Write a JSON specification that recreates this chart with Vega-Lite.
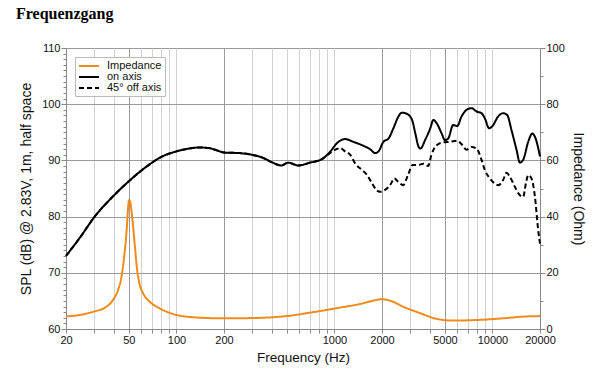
{
  "$schema": "https://vega.github.io/schema/vega-lite/v6.json",
  "width": 474,
  "height": 281,
  "autosize": {"type": "none"},
  "padding": {"left": 66, "top": 48, "right": 59, "bottom": 50},
  "background": "white",
  "title": {"text": "Frequenzgang", "anchor": "start", "frame": "group", "font": "Liberation Serif", "fontSize": 16, "fontWeight": "bold", "color": "black", "dx": -50, "offset": 20},
  "config": {
    "view": {"stroke": "#999", "strokeWidth": 1},
    "axis": {"labelFont": "Liberation Sans", "titleFont": "Liberation Sans", "labelColor": "#111", "titleColor": "#111", "titleFontWeight": "normal", "domainColor": "#888", "tickColor": "#888"},
    "legend": {"labelFont": "Liberation Sans"}
  },
  "datasets": {
    "spl": [
      {"f": 20, "s": "on axis", "v": 73.0}, {"f": 25, "s": "on axis", "v": 76.6}, {"f": 30, "s": "on axis", "v": 79.8}, {"f": 40, "s": "on axis", "v": 83.7}, {"f": 50, "s": "on axis", "v": 86.3}, {"f": 60, "s": "on axis", "v": 88.2}, {"f": 70, "s": "on axis", "v": 89.6}, {"f": 80, "s": "on axis", "v": 90.6}, {"f": 100, "s": "on axis", "v": 91.6}, {"f": 120, "s": "on axis", "v": 92.1}, {"f": 140, "s": "on axis", "v": 92.3}, {"f": 160, "s": "on axis", "v": 92.2}, {"f": 180, "s": "on axis", "v": 91.8}, {"f": 200, "s": "on axis", "v": 91.4}, {"f": 250, "s": "on axis", "v": 91.3}, {"f": 300, "s": "on axis", "v": 91.0}, {"f": 350, "s": "on axis", "v": 90.5}, {"f": 400, "s": "on axis", "v": 89.7}, {"f": 460, "s": "on axis", "v": 89.1}, {"f": 510, "s": "on axis", "v": 89.6}, {"f": 590, "s": "on axis", "v": 89.1}, {"f": 700, "s": "on axis", "v": 89.6}, {"f": 830, "s": "on axis", "v": 90.2}, {"f": 937, "s": "on axis", "v": 91.5},
      {"f": 1033, "s": "on axis", "v": 93.0}, {"f": 1100, "s": "on axis", "v": 93.6}, {"f": 1167, "s": "on axis", "v": 93.8}, {"f": 1318, "s": "on axis", "v": 93.3}, {"f": 1525, "s": "on axis", "v": 92.6}, {"f": 1680, "s": "on axis", "v": 92.0}, {"f": 1810, "s": "on axis", "v": 91.3}, {"f": 1900, "s": "on axis", "v": 91.6}, {"f": 2040, "s": "on axis", "v": 93.3}, {"f": 2200, "s": "on axis", "v": 93.9}, {"f": 2360, "s": "on axis", "v": 95.7}, {"f": 2540, "s": "on axis", "v": 97.8}, {"f": 2670, "s": "on axis", "v": 98.5}, {"f": 2870, "s": "on axis", "v": 98.3}, {"f": 3100, "s": "on axis", "v": 97.2}, {"f": 3250, "s": "on axis", "v": 94.8}, {"f": 3400, "s": "on axis", "v": 92.5}, {"f": 3500, "s": "on axis", "v": 92.1}, {"f": 3760, "s": "on axis", "v": 93.7}, {"f": 4040, "s": "on axis", "v": 95.7}, {"f": 4230, "s": "on axis", "v": 97.2}, {"f": 4440, "s": "on axis", "v": 96.6}, {"f": 4770, "s": "on axis", "v": 94.8}, {"f": 5000, "s": "on axis", "v": 93.6}, {"f": 5250, "s": "on axis", "v": 93.9}, {"f": 5640, "s": "on axis", "v": 96.3}, {"f": 5980, "s": "on axis", "v": 96.1}, {"f": 6370, "s": "on axis", "v": 97.8}, {"f": 6860, "s": "on axis", "v": 99.0}, {"f": 7380, "s": "on axis", "v": 99.3}, {"f": 7940, "s": "on axis", "v": 98.7}, {"f": 8530, "s": "on axis", "v": 98.4}, {"f": 8950, "s": "on axis", "v": 97.5}, {"f": 9530, "s": "on axis", "v": 95.7}, {"f": 10000, "s": "on axis", "v": 96.1}, {"f": 10860, "s": "on axis", "v": 97.8}, {"f": 11680, "s": "on axis", "v": 98.4}, {"f": 12380, "s": "on axis", "v": 98.1}, {"f": 13200, "s": "on axis", "v": 95.4}, {"f": 14200, "s": "on axis", "v": 91.9}, {"f": 14920, "s": "on axis", "v": 89.6}, {"f": 15650, "s": "on axis", "v": 90.1}, {"f": 16840, "s": "on axis", "v": 93.3}, {"f": 17870, "s": "on axis", "v": 94.8}, {"f": 18580, "s": "on axis", "v": 94.2}, {"f": 20000, "s": "on axis", "v": 90.7},
      {"f": 20, "s": "45° off axis", "v": 73.0}, {"f": 25, "s": "45° off axis", "v": 76.6}, {"f": 30, "s": "45° off axis", "v": 79.8}, {"f": 40, "s": "45° off axis", "v": 83.7}, {"f": 50, "s": "45° off axis", "v": 86.3}, {"f": 60, "s": "45° off axis", "v": 88.2}, {"f": 70, "s": "45° off axis", "v": 89.6}, {"f": 80, "s": "45° off axis", "v": 90.6}, {"f": 100, "s": "45° off axis", "v": 91.6}, {"f": 120, "s": "45° off axis", "v": 92.1}, {"f": 140, "s": "45° off axis", "v": 92.3}, {"f": 160, "s": "45° off axis", "v": 92.2}, {"f": 180, "s": "45° off axis", "v": 91.8}, {"f": 200, "s": "45° off axis", "v": 91.4}, {"f": 250, "s": "45° off axis", "v": 91.3}, {"f": 300, "s": "45° off axis", "v": 91.0}, {"f": 350, "s": "45° off axis", "v": 90.5}, {"f": 400, "s": "45° off axis", "v": 89.7}, {"f": 460, "s": "45° off axis", "v": 89.1}, {"f": 510, "s": "45° off axis", "v": 89.6}, {"f": 590, "s": "45° off axis", "v": 89.1}, {"f": 700, "s": "45° off axis", "v": 89.6}, {"f": 830, "s": "45° off axis", "v": 90.2}, {"f": 937, "s": "45° off axis", "v": 91.3},
      {"f": 1030, "s": "45° off axis", "v": 92.0}, {"f": 1090, "s": "45° off axis", "v": 92.2}, {"f": 1167, "s": "45° off axis", "v": 91.6}, {"f": 1260, "s": "45° off axis", "v": 91.0}, {"f": 1350, "s": "45° off axis", "v": 89.5}, {"f": 1490, "s": "45° off axis", "v": 88.3}, {"f": 1610, "s": "45° off axis", "v": 87.4}, {"f": 1730, "s": "45° off axis", "v": 85.9}, {"f": 1850, "s": "45° off axis", "v": 84.7}, {"f": 1940, "s": "45° off axis", "v": 84.4}, {"f": 2080, "s": "45° off axis", "v": 84.7}, {"f": 2250, "s": "45° off axis", "v": 85.6}, {"f": 2400, "s": "45° off axis", "v": 86.8}, {"f": 2530, "s": "45° off axis", "v": 86.2}, {"f": 2720, "s": "45° off axis", "v": 85.6}, {"f": 2920, "s": "45° off axis", "v": 87.4}, {"f": 3130, "s": "45° off axis", "v": 89.2}, {"f": 3400, "s": "45° off axis", "v": 89.2}, {"f": 3660, "s": "45° off axis", "v": 89.4}, {"f": 3920, "s": "45° off axis", "v": 89.0}, {"f": 4110, "s": "45° off axis", "v": 91.0}, {"f": 4440, "s": "45° off axis", "v": 92.7}, {"f": 4880, "s": "45° off axis", "v": 93.2}, {"f": 5380, "s": "45° off axis", "v": 93.3}, {"f": 5980, "s": "45° off axis", "v": 93.5}, {"f": 6370, "s": "45° off axis", "v": 92.9}, {"f": 6860, "s": "45° off axis", "v": 91.9}, {"f": 7380, "s": "45° off axis", "v": 92.4}, {"f": 7940, "s": "45° off axis", "v": 92.1}, {"f": 8530, "s": "45° off axis", "v": 90.1}, {"f": 8950, "s": "45° off axis", "v": 88.3}, {"f": 9630, "s": "45° off axis", "v": 86.8}, {"f": 10350, "s": "45° off axis", "v": 85.9}, {"f": 10900, "s": "45° off axis", "v": 85.6}, {"f": 11680, "s": "45° off axis", "v": 86.5}, {"f": 12270, "s": "45° off axis", "v": 87.8}, {"f": 12880, "s": "45° off axis", "v": 87.1}, {"f": 13870, "s": "45° off axis", "v": 85.3}, {"f": 14920, "s": "45° off axis", "v": 83.8}, {"f": 15650, "s": "45° off axis", "v": 83.5}, {"f": 16280, "s": "45° off axis", "v": 85.9}, {"f": 16840, "s": "45° off axis", "v": 87.4}, {"f": 17670, "s": "45° off axis", "v": 86.8}, {"f": 18580, "s": "45° off axis", "v": 83.5}, {"f": 19480, "s": "45° off axis", "v": 77.6}, {"f": 20000, "s": "45° off axis", "v": 75.2}
    ],
    "imp": [
      {"f": 20, "s": "Impedance", "z": 4.5}, {"f": 24.5, "s": "Impedance", "z": 5.0}, {"f": 30, "s": "Impedance", "z": 6.2}, {"f": 36, "s": "Impedance", "z": 7.9}, {"f": 39.6, "s": "Impedance", "z": 10.3}, {"f": 42.7, "s": "Impedance", "z": 13.9}, {"f": 44.9, "s": "Impedance", "z": 18.6}, {"f": 46.7, "s": "Impedance", "z": 25.7}, {"f": 48.4, "s": "Impedance", "z": 35.2}, {"f": 49.5, "s": "Impedance", "z": 43.5}, {"f": 50.2, "s": "Impedance", "z": 45.9}, {"f": 51.2, "s": "Impedance", "z": 44.7}, {"f": 52.7, "s": "Impedance", "z": 38.8}, {"f": 54.6, "s": "Impedance", "z": 29.3}, {"f": 56.4, "s": "Impedance", "z": 21.0}, {"f": 58.6, "s": "Impedance", "z": 15.7}, {"f": 61.5, "s": "Impedance", "z": 12.7}, {"f": 67.8, "s": "Impedance", "z": 9.7}, {"f": 78, "s": "Impedance", "z": 7.4}, {"f": 100, "s": "Impedance", "z": 5.0}, {"f": 134, "s": "Impedance", "z": 4.1}, {"f": 200, "s": "Impedance", "z": 3.8}, {"f": 306, "s": "Impedance", "z": 3.9}, {"f": 497, "s": "Impedance", "z": 4.6}, {"f": 700, "s": "Impedance", "z": 5.8}, {"f": 1030, "s": "Impedance", "z": 7.4}, {"f": 1450, "s": "Impedance", "z": 8.9}, {"f": 1760, "s": "Impedance", "z": 10.1}, {"f": 1990, "s": "Impedance", "z": 10.6}, {"f": 2250, "s": "Impedance", "z": 10.1}, {"f": 2730, "s": "Impedance", "z": 7.9}, {"f": 3500, "s": "Impedance", "z": 5.6}, {"f": 4440, "s": "Impedance", "z": 3.6}, {"f": 5640, "s": "Impedance", "z": 3.0}, {"f": 7940, "s": "Impedance", "z": 3.2}, {"f": 11680, "s": "Impedance", "z": 3.8}, {"f": 15650, "s": "Impedance", "z": 4.4}, {"f": 20000, "s": "Impedance", "z": 4.6}
    ]
  },
  "layer": [
    {
      "data": {"name": "spl"},
      "mark": {"type": "line", "interpolate": "monotone", "strokeWidth": 2},
      "encoding": {
        "x": {"field": "f", "type": "quantitative", "scale": {"type": "log", "domain": [20, 20000], "nice": false},
          "axis": {
            "values": [20, 30, 40, 50, 60, 70, 80, 90, 100, 200, 300, 400, 500, 600, 700, 800, 900, 1000, 2000, 3000, 4000, 5000, 6000, 7000, 8000, 9000, 10000, 20000],
            "labelExpr": "indexof([20,50,100,200,1000,2000,5000,10000,20000], datum.value) >= 0 ? '' + datum.value : ''",
            "labelOverlap": false, "labelFlush": false, "labelBound": false,
            "grid": true,
            "gridColor": {"condition": {"test": "indexof([50,200,2000,5000], datum.value) >= 0", "value": "#9a9a9a"}, "value": "#d2d2d2"},
            "tickSize": 4, "labelFontSize": 11, "labelPadding": 1,
            "title": "Frequency (Hz)", "titleFontSize": 13.5, "titlePadding": 5
          }
        },
        "y": {"field": "v", "type": "quantitative", "scale": {"domain": [60, 110], "nice": false, "zero": false},
          "axis": {
            "values": [60,61,62,63,64,65,66,67,68,69,70,71,72,73,74,75,76,77,78,79,80,81,82,83,84,85,86,87,88,89,90,91,92,93,94,95,96,97,98,99,100,101,102,103,104,105,106,107,108,109,110],
            "labelExpr": "datum.value % 10 === 0 ? datum.label : ''",
            "labelOverlap": false, "labelBound": false, "labelFlush": false,
            "grid": true,
            "gridColor": "#9a9a9a",
            "gridOpacity": {"condition": {"test": "datum.value % 10 === 0 && datum.value > 60 && datum.value < 110", "value": 1}, "value": 0},
            "tickSize": {"condition": {"test": "datum.value % 10 === 0", "value": 5}, "value": 3},
            "labelFontSize": 11, "labelPadding": 1,
            "title": "SPL (dB) @ 2.83V, 1m, half space", "titleFontSize": 14, "titlePadding": 8
          }
        },
        "color": {"field": "s", "type": "nominal", "scale": {"domain": ["Impedance", "on axis", "45° off axis"], "range": ["#f28a1a", "#000000", "#000000"]},
          "legend": {"title": null, "orient": "none", "legendX": 9, "legendY": 9, "symbolType": "M-1,0H3", "symbolSize": 100, "symbolStrokeWidth": 2, "labelFontSize": 11, "labelColor": "#111", "fillColor": "white", "strokeColor": "#bbb", "padding": 3, "rowPadding": -2, "labelOffset": 17}
        },
        "strokeDash": {"field": "s", "type": "nominal", "scale": {"domain": ["Impedance", "on axis", "45° off axis"], "range": [[1, 0], [1, 0], [5, 3]]},
          "legend": {"title": null, "orient": "none", "legendX": 9, "legendY": 9, "symbolType": "M-1,0H3", "symbolSize": 100, "symbolStrokeWidth": 2, "labelFontSize": 11, "labelColor": "#111", "fillColor": "white", "strokeColor": "#bbb", "padding": 3, "rowPadding": -2, "labelOffset": 17}
        }
      }
    },
    {
      "data": {"name": "imp"},
      "mark": {"type": "line", "interpolate": "monotone", "strokeWidth": 2},
      "encoding": {
        "x": {"field": "f", "type": "quantitative", "scale": {"type": "log", "domain": [20, 20000], "nice": false}},
        "y": {"field": "z", "type": "quantitative", "scale": {"domain": [0, 100], "nice": false},
          "axis": {
            "orient": "right",
            "values": [0,10,20,30,40,50,60,70,80,90,100],
            "labelExpr": "datum.value % 20 === 0 ? datum.label : ''",
            "labelOverlap": false, "labelBound": false, "labelFlush": false,
            "grid": false,
            "tickSize": {"condition": {"test": "datum.value % 20 === 0", "value": 5}, "value": 3},
            "labelFontSize": 11, "labelPadding": 1,
            "title": "Impedance (Ohm)", "titleFontSize": 14, "titlePadding": 6
          }
        },
        "color": {"field": "s", "type": "nominal", "scale": {"domain": ["Impedance", "on axis", "45° off axis"], "range": ["#f28a1a", "#000000", "#000000"]}},
        "strokeDash": {"field": "s", "type": "nominal", "scale": {"domain": ["Impedance", "on axis", "45° off axis"], "range": [[1, 0], [1, 0], [5, 3]]}}
      }
    }
  ],
  "resolve": {"scale": {"y": "independent"}}
}
